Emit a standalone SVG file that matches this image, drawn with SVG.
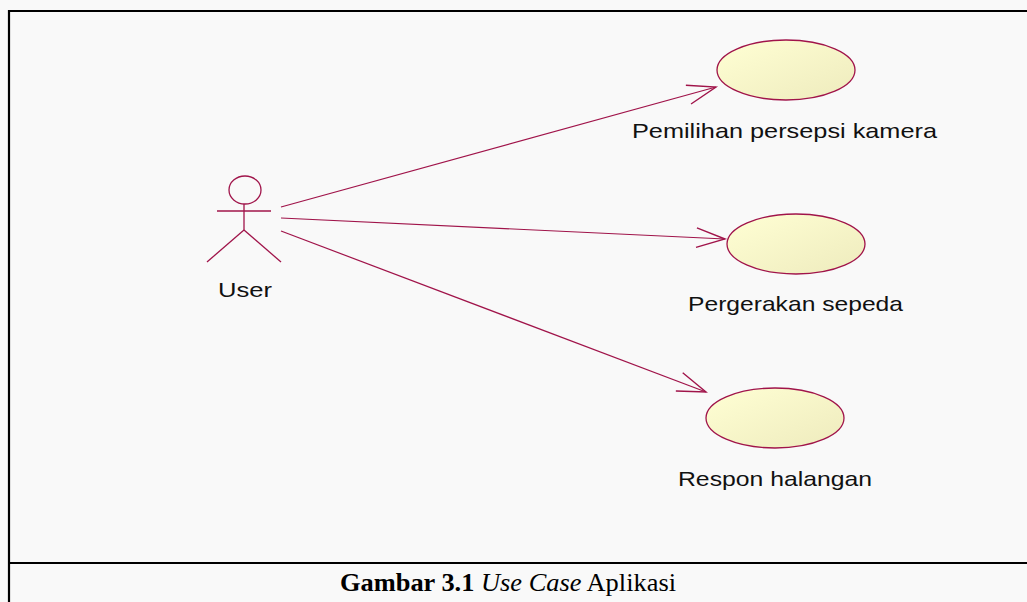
<svg xmlns="http://www.w3.org/2000/svg" width="1027" height="602" viewBox="0 0 1027 602">
<defs>
<style>
.uc{stroke:#a0144a;stroke-width:1.3;fill:url(#ucg)}
.ln{stroke:#a0144a;stroke-width:1.2;fill:none}
.act{stroke:#a0144a;stroke-width:1.3;fill:none}
.lbl{font-family:"Liberation Sans",Arial,sans-serif;font-size:21px;fill:#111}
.frame{stroke:#000;stroke-width:2.2;fill:none}
.cap{font-family:"Liberation Serif","Times New Roman",serif;font-size:25px;fill:#000}
</style>
<linearGradient id="ucg" x1="0" y1="0" x2="1" y2="1">
<stop offset="0" stop-color="#ffffd4"/>
<stop offset="1" stop-color="#eeebbd"/>
</linearGradient>
<marker id="open" markerUnits="userSpaceOnUse" markerWidth="40" markerHeight="40" viewBox="-30 -15 35 30" refX="0" refY="0" orient="auto">
<path d="M-25,-8.5 L0,0 L-25,8.5" stroke="#a0144a" stroke-width="1.2" fill="none"/>
</marker>
</defs>
<rect x="0" y="0" width="1027" height="602" fill="#f9f9f9"/>
<g id="frame">
<line class="frame" x1="9" y1="11" x2="1027" y2="11"/>
<line class="frame" x1="9" y1="10" x2="9" y2="602"/>
<line class="frame" x1="9" y1="563" x2="1027" y2="563"/>
</g>
<g id="connectors">
<line class="ln" x1="281" y1="207" x2="716" y2="87" marker-end="url(#open)"/>
<line class="ln" x1="281" y1="218" x2="725" y2="239" marker-end="url(#open)"/>
<line class="ln" x1="281" y1="231" x2="706" y2="392" marker-end="url(#open)"/>
</g>
<g id="user">
<ellipse class="act" cx="245" cy="190" rx="16" ry="14"/>
<line class="act" x1="217" y1="211" x2="271" y2="211"/>
<line class="act" x1="244" y1="204" x2="244" y2="230"/>
<line class="act" x1="244" y1="230" x2="207" y2="262"/>
<line class="act" x1="244" y1="230" x2="281" y2="262"/>
<text class="lbl" x="218" y="297" textLength="54" lengthAdjust="spacingAndGlyphs">User</text>
</g>
<g id="uc1">
<ellipse class="uc" cx="786" cy="70" rx="69" ry="30"/>
<text class="lbl" x="632" y="138" textLength="305" lengthAdjust="spacingAndGlyphs">Pemilihan persepsi kamera</text>
</g>
<g id="uc2">
<ellipse class="uc" cx="796" cy="244" rx="69" ry="30"/>
<text class="lbl" x="688" y="311" textLength="215" lengthAdjust="spacingAndGlyphs">Pergerakan sepeda</text>
</g>
<g id="uc3">
<ellipse class="uc" cx="775" cy="418" rx="69" ry="30"/>
<text class="lbl" x="678" y="486" textLength="194" lengthAdjust="spacingAndGlyphs">Respon halangan</text>
</g>
<g id="caption">
<text class="cap" x="340" y="591" textLength="336" lengthAdjust="spacingAndGlyphs"><tspan font-weight="bold">Gambar 3.1</tspan> <tspan font-style="italic">Use Case</tspan> Aplikasi</text>
</g>
</svg>
